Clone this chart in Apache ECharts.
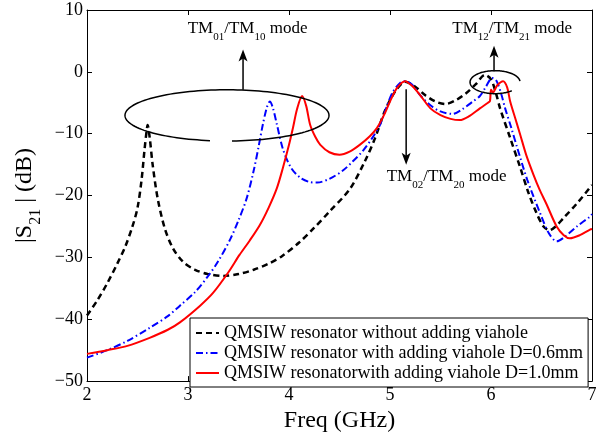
<!DOCTYPE html>
<html><head><meta charset="utf-8">
<script src="https://cdn.jsdelivr.net/npm/echarts@6/dist/echarts.min.js"></script>
<style>html,body{margin:0;padding:0;background:#fff}#c{width:605px;height:438px}</style>
</head><body><div id="c"></div>
<script>
// ---- data ----
const seriesNames = [
  'QMSIW resonator without adding viahole',
  'QMSIW resonator with adding viahole D=0.6mm',
  'QMSIW resonatorwith adding viahole D=1.0mm'
];
const xTicks = [2, 3, 4, 5, 6, 7];
const yTicks = [-50, -40, -30, -20, -10, 0, 10];

const freqBlack = [2.00,2.10,2.20,2.30,2.38,2.45,2.50,2.54,2.57,2.59,2.60,2.62,2.65,2.70,2.77,2.85,2.95,3.07,3.20,3.35,3.50,3.65,3.80,3.93,4.10,4.25,4.40,4.60,4.75,4.85,4.95,5.05,5.15,5.25,5.35,5.45,5.55,5.65,5.75,5.85,5.94,6.00,6.05,6.09,6.19,6.29,6.37,6.45,6.52,6.58,6.64,6.72,6.85,6.98,7.00];
const s21Black = [-39.4,-37.0,-34.2,-31.0,-28.2,-25.0,-22.0,-17.5,-12.5,-9.6,-8.6,-10.5,-15.0,-20.5,-25.3,-28.5,-30.7,-32.0,-32.7,-33.0,-32.7,-32.0,-31.0,-29.8,-27.6,-25.2,-22.6,-19.0,-14.5,-10.8,-6.3,-3.2,-1.6,-2.4,-3.8,-4.8,-5.2,-4.6,-3.5,-2.0,-0.5,-1.2,-3.5,-5.9,-10.7,-15.5,-19.5,-22.8,-25.0,-25.6,-25.0,-23.6,-21.3,-18.7,-18.3];

const freqBlue = [2.00,2.20,2.40,2.62,2.80,2.92,3.07,3.20,3.30,3.42,3.50,3.58,3.65,3.70,3.74,3.78,3.81,3.84,3.88,3.94,4.02,4.11,4.20,4.28,4.40,4.53,4.63,4.73,4.82,4.90,4.97,5.03,5.10,5.15,5.22,5.30,5.40,5.50,5.62,5.72,5.82,5.89,5.95,6.01,6.05,6.10,6.14,6.20,6.26,6.36,6.49,6.57,6.65,6.72,6.85,6.98,7.00];
const s21Blue = [-46.2,-45.0,-43.5,-41.4,-39.5,-37.8,-35.6,-33.0,-30.6,-27.0,-24.0,-20.5,-16.0,-12.0,-8.6,-5.8,-4.8,-5.8,-8.5,-12.5,-15.5,-17.1,-17.8,-17.9,-17.3,-16.0,-14.5,-12.8,-10.8,-8.6,-5.5,-3.2,-1.8,-1.5,-2.1,-3.8,-5.4,-6.4,-6.8,-6.0,-4.8,-3.9,-2.4,-1.0,-1.3,-3.5,-5.9,-9.0,-12.3,-17.5,-23.0,-26.0,-27.4,-26.8,-25.0,-23.4,-23.0];

const freqRed = [2.00,2.20,2.40,2.62,2.80,2.92,3.12,3.25,3.40,3.51,3.61,3.71,3.80,3.88,3.94,4.00,4.04,4.08,4.13,4.17,4.21,4.26,4.31,4.40,4.50,4.60,4.70,4.80,4.87,4.94,5.00,5.07,5.15,5.22,5.30,5.40,5.50,5.60,5.69,5.78,5.89,5.97,5.99,6.00,6.02,6.06,6.12,6.16,6.19,6.24,6.29,6.35,6.42,6.48,6.55,6.65,6.72,6.78,6.88,6.98,7.00];
const s21Red = [-45.6,-45.0,-44.3,-43.0,-41.7,-40.5,-37.8,-35.7,-32.4,-29.6,-27.3,-24.8,-21.9,-18.8,-15.5,-11.8,-9.0,-6.0,-3.9,-5.5,-8.6,-10.5,-11.8,-13.0,-13.4,-12.9,-11.8,-10.4,-9.1,-7.0,-4.8,-2.6,-1.5,-2.3,-3.8,-5.9,-7.0,-7.6,-7.8,-7.2,-5.9,-5.0,-4.7,-2.9,-3.3,-2.2,-1.5,-2.5,-4.8,-7.5,-10.2,-13.5,-16.6,-19.0,-21.4,-25.0,-26.4,-26.9,-26.4,-25.5,-25.4];

// annotation anchors (data coordinates)
const annoTexts = [
  { text: '{m|TM}{s|01}{m|/TM}{s|10}{m| mode}', x: 3.59, y: 6.05 },
  { text: '{m|TM}{s|12}{m|/TM}{s|21}{m| mode}', x: 6.21, y: 6.05 },
  { text: '{m|TM}{s|02}{m|/TM}{s|20}{m| mode}', x: 5.56, y: -17.85 }
];

const FONT = 'Liberation Serif';
const zip = (a, b) => a.map((v, i) => [v, b[i]]);
const minusFmt = v => String(v).replace('-', '\u2212');

const chart = echarts.init(document.getElementById('c'), null, { renderer: 'canvas' });

const axisCommon = {
  type: 'value',
  axisLine: { show: true, onZero: false, lineStyle: { color: '#000', width: 1 } },
  axisTick: { show: true, inside: true, length: 5, lineStyle: { color: '#000', width: 1 } },
  splitLine: { show: false }
};

const option = {
  animation: false,
  backgroundColor: '#fff',
  textStyle: { fontFamily: FONT },
  grid: { left: 87, right: 13, top: 10, bottom: 50, containLabel: false },
  xAxis: [
    Object.assign({}, axisCommon, {
      min: 2, max: 7, interval: 1, position: 'bottom',
      axisLabel: { fontSize: 18, fontFamily: FONT, color: '#000', margin: 5, formatter: minusFmt },
      name: 'Freq (GHz)', nameLocation: 'middle', nameGap: 19,
      nameTextStyle: { fontSize: 24, fontFamily: FONT, color: '#000' }
    }),
    Object.assign({}, axisCommon, {
      min: 2, max: 7, interval: 1, position: 'top', axisLabel: { show: false }
    })
  ],
  yAxis: [
    Object.assign({}, axisCommon, {
      min: -50, max: 10, interval: 10, position: 'left',
      axisLabel: { fontSize: 18, fontFamily: FONT, color: '#000', margin: 4, formatter: minusFmt },
      name: '{a||S}{s|21}{a| | (dB)}', nameLocation: 'middle', nameGap: 42,
      nameTextStyle: {
        color: '#000', fontFamily: FONT,
        rich: {
          a: { fontSize: 24, fontFamily: FONT, color: '#000', lineHeight: 31, verticalAlign: 'top' },
          s: { fontSize: 16, fontFamily: FONT, color: '#000', lineHeight: 16, verticalAlign: 'bottom' }
        }
      }
    }),
    Object.assign({}, axisCommon, {
      min: -50, max: 10, interval: 10, position: 'right', axisLabel: { show: false }
    })
  ],
  legend: {
    orient: 'vertical', left: 190, top: 318,
    data: seriesNames,
    itemWidth: 23, itemHeight: 14, itemGap: 2,
    padding: [6, 5, 5, 5],
    borderColor: '#000', borderWidth: 1, backgroundColor: '#fff',
    itemStyle: { opacity: 0 },
    textStyle: { fontSize: 18, fontFamily: FONT, color: '#000' },
    z: 10
  },
  series: [
    {
      name: seriesNames[0], type: 'line', data: zip(freqBlack, s21Black),
      symbol: 'none', smooth: 0.3, xAxisIndex: 0, yAxisIndex: 0,
      lineStyle: { color: '#000', width: 2.5, type: [6, 4] }, itemStyle: { color: '#000' }
    },
    {
      name: seriesNames[1], type: 'line', data: zip(freqBlue, s21Blue),
      symbol: 'none', smooth: 0.3, xAxisIndex: 0, yAxisIndex: 0,
      lineStyle: { color: '#0000ff', width: 2, type: [7, 3, 1.5, 3] }, itemStyle: { color: '#0000ff' }
    },
    {
      name: seriesNames[2], type: 'line', data: zip(freqRed, s21Red),
      symbol: 'none', smooth: 0.3, xAxisIndex: 0, yAxisIndex: 0,
      lineStyle: { color: '#ff0000', width: 2 }, itemStyle: { color: '#ff0000' }
    }
  ]
};
chart.setOption(option);

// ---- annotations, placed from data coordinates ----
const P = (x, y) => chart.convertToPixel({ xAxisIndex: 0, yAxisIndex: 0 }, [x, y]);

function ellipseArc(cx, cy, ax, ay, t0, t1) {
  const c = P(cx, cy);
  const e = P(cx + ax, cy + ay);
  const rx = Math.abs(e[0] - c[0]), ry = Math.abs(e[1] - c[1]);
  const pts = [];
  const n = 140;
  for (let i = 0; i <= n; i++) {
    const t = (t0 + (t1 - t0) * i / n) * Math.PI / 180;
    pts.push([c[0] + rx * Math.cos(t), c[1] + ry * Math.sin(t)]);
  }
  return { type: 'polyline', z: 20, shape: { points: pts }, style: { stroke: '#000', lineWidth: 1.5, fill: null } };
}

function arrow(x, y0, y1) {
  const a = P(x, y0), b = P(x, y1);
  const dir = b[1] > a[1] ? 1 : -1;
  const hl = 12, hw = 4.5;
  return [
    { type: 'line', z: 20, shape: { x1: a[0], y1: a[1], x2: b[0], y2: b[1] - dir * 6 }, style: { stroke: '#000', lineWidth: 1.5 } },
    { type: 'polygon', z: 20, shape: { points: [[b[0], b[1]], [b[0] - hw, b[1] - dir * hl], [b[0], b[1] - dir * 9], [b[0] + hw, b[1] - dir * hl]] }, style: { fill: '#000' } }
  ];
}

const rich = {
  m: { fontSize: 17, fontFamily: FONT, fill: '#000', lineHeight: 22, verticalAlign: 'top' },
  s: { fontSize: 11, fontFamily: FONT, fill: '#000', lineHeight: 11, verticalAlign: 'bottom' }
};

const graphics = [];
graphics.push(ellipseArc(3.386, -7.04, 1.01, 4.14, 99.6, 447.2));
graphics.push(ellipseArc(6.04, -1.67, 0.2475, 1.86, 48, 355));
graphics.push(...arrow(3.545, -2.9, 3.6));
graphics.push(...arrow(6.03, 0.1, 4.2));
graphics.push(...arrow(5.16, -2.8, -15.0));
annoTexts.forEach(t => {
  const p = P(t.x, t.y);
  graphics.push({
    type: 'text', z: 20, x: p[0], y: p[1] - 14,
    style: { text: t.text, rich: rich, align: 'center', verticalAlign: 'top', fontFamily: FONT, fontSize: 17, fill: '#000' }
  });
});
chart.setOption({ graphic: graphics });
</script>
</body></html>
